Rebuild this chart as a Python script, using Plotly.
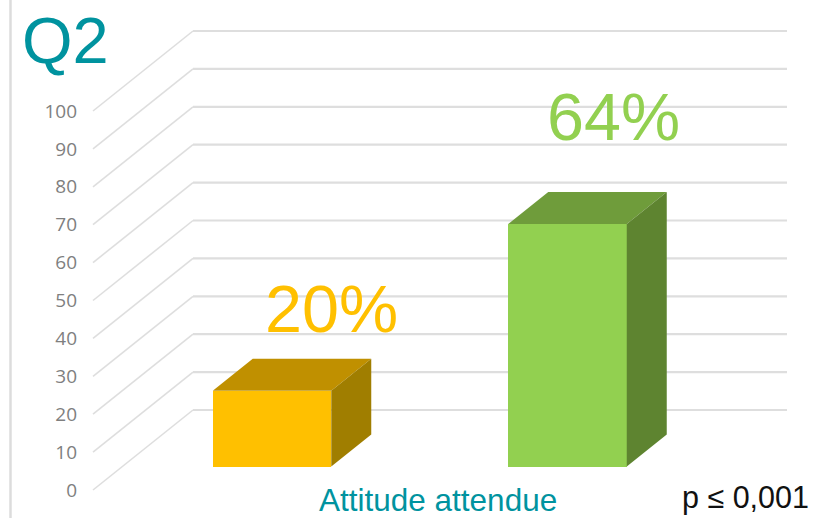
import plotly.graph_objects as go

# Data
categories = ["Groupe 1", "Groupe 2"]
values = [20, 64]
labels = ["20%", "64%"]
tick_values = list(range(0, 101, 10))
x_title = "Attitude attendue"
title = "Q2"
p_text = "p ≤ 0,001"

# Colours
front = ["#FFC000", "#92D050"]
top = ["#C09000", "#6F9C3B"]
side = ["#A07E00", "#5E8430"]
TEAL = "#00939F"
GRID = "#DEDEDE"

W, H = 819, 518
L = 78
PX_PER_UNIT = 3.79          # vertical pixels per value unit
PX_PER_CAT = 295.5          # horizontal pixels per category
X0 = 272                    # pixel of first category centre
Y0 = 490                    # pixel of value 0


def dx(px):
    return px / PX_PER_CAT


def dy(px):
    return px / PX_PER_UNIT


def paper_x(px):
    return (px - L) / (W - L)


bar_w = dx(118.5)
base = dy(490 - 466.5)      # bars stand in the middle of the floor
bar_dx, bar_dy = dx(40), dy(32)
wall_dx, wall_dy = dx(100), dy(80)
wall_start = dx(93 - X0)
wall_left = wall_start + wall_dx
wall_right = dx(787 - X0)

xrange_ = [dx(L - X0), dx(W - X0)]
yrange_ = [dy(Y0 - H), dy(Y0)]

shapes = []
for v in tick_values:
    shapes.append(dict(type="line", layer="below", xref="x", yref="y",
                       x0=wall_start, y0=v, x1=wall_left, y1=v + wall_dy,
                       line=dict(color=GRID, width=1.6)))
    shapes.append(dict(type="line", layer="below", xref="x", yref="y",
                       x0=wall_left, y0=v + wall_dy, x1=wall_right, y1=v + wall_dy,
                       line=dict(color=GRID, width=2.2)))
# slide edge on the left
shapes.append(dict(type="line", xref="paper", yref="paper",
                   x0=paper_x(10.5), x1=paper_x(10.5), y0=0, y1=1,
                   line=dict(color="#DCDCDC", width=2.5)))

fig = go.Figure()
idx = list(range(len(values)))
fig.add_trace(go.Bar(x=idx, y=values, base=base, width=bar_w,
                     marker=dict(color=front, line=dict(width=0)),
                     hoverinfo="skip", customdata=categories))

for i, v in zip(idx, values):
    xl, xr = i - bar_w / 2, i + bar_w / 2
    yb, yt = base, base + v
    fig.add_trace(go.Scatter(
        x=[xl, xr, xr + bar_dx, xl + bar_dx, xl],
        y=[yt, yt, yt + bar_dy, yt + bar_dy, yt],
        mode="lines", fill="toself", fillcolor=top[i], line=dict(width=0),
        hoverinfo="skip"))
    fig.add_trace(go.Scatter(
        x=[xr, xr + bar_dx, xr + bar_dx, xr, xr],
        y=[yb, yb + bar_dy, yt + bar_dy, yt, yb],
        mode="lines", fill="toself", fillcolor=side[i], line=dict(width=0),
        hoverinfo="skip"))


def text(s, x, y, size, color, family="Liberation Sans"):
    return dict(text=s, x=paper_x(x), y=1 - y / H, xref="paper", yref="paper",
                xanchor="center", yanchor="middle", showarrow=False,
                font=dict(size=size, color=color, family=family))


annotations = [
    text(title, 65, 41, 65, TEAL),
    text(labels[0], 331, 309, 66.5, front[0]),
    text(labels[1], 613, 117, 66.5, front[1]),
    text(x_title, 438, 499.5, 31.5, TEAL),
    text(p_text, 745, 497, 30.5, "#111111"),
]

fig.update_layout(
    width=W, height=H, showlegend=False, bargap=0,
    margin=dict(l=L, r=0, t=0, b=0, pad=0),
    paper_bgcolor="white", plot_bgcolor="white",
    shapes=shapes, annotations=annotations,
    xaxis=dict(range=xrange_, visible=False, fixedrange=True),
    yaxis=dict(range=yrange_, tickvals=tick_values, ticks="", showgrid=False,
               zeroline=False, showline=False, fixedrange=True,
               tickfont=dict(size=19, color="#7F7F7F", family="Open Sans")),
)
fig.write_html("out.html", config=dict(displayModeBar=False),
               post_script="document.body.style.margin='0';")
